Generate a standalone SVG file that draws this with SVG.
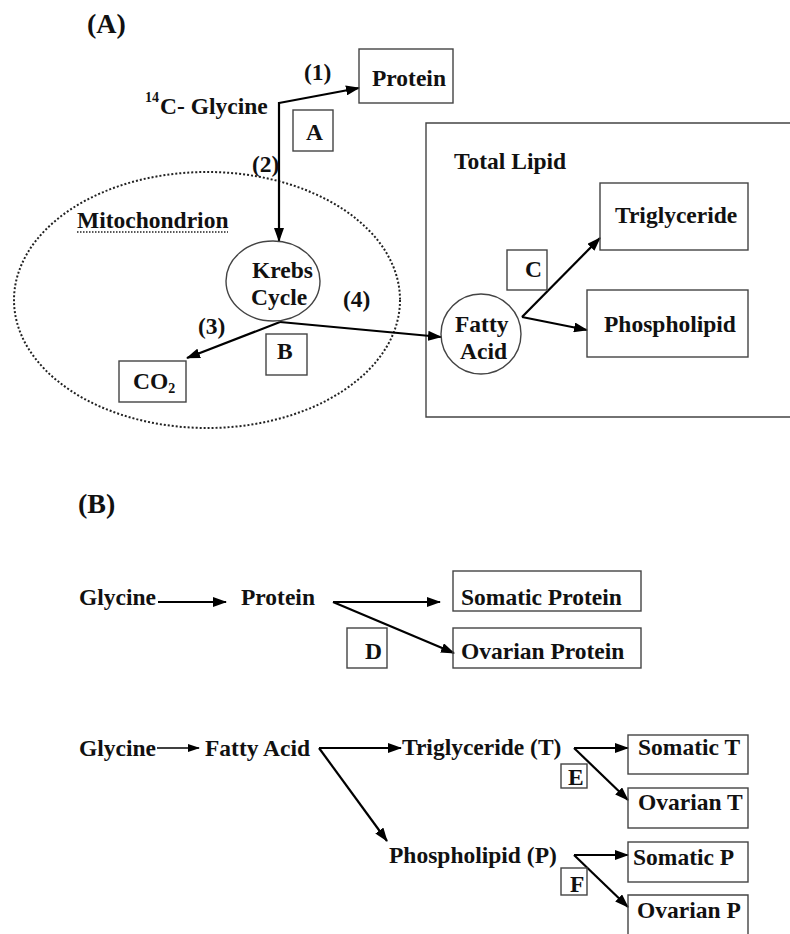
<svg xmlns="http://www.w3.org/2000/svg" width="790" height="934" viewBox="0 0 790 934">
<style>
text{font-family:"Liberation Serif","Times New Roman",serif;font-weight:bold;font-size:23.5px;fill:#111}
.big{font-size:28px}
.sup{font-size:14px}
.box{fill:none;stroke:#444;stroke-width:1.4}
.circ{fill:#fff;stroke:#444;stroke-width:1.4}
.arr{fill:none;stroke:#000;stroke-width:2.2;marker-end:url(#ah)}
.thin{fill:none;stroke:#000;stroke-width:1.3;marker-end:url(#ahs)}
.dot{fill:none;stroke:#222;stroke-width:2;stroke-dasharray:2 2}
</style>
<defs>
<marker id="ah" viewBox="0 0 14 10" refX="13" refY="5" markerWidth="14" markerHeight="10" markerUnits="userSpaceOnUse" orient="auto"><path d="M0,0 L14,5 L0,10 z" fill="#000"/></marker>
<marker id="ahs" viewBox="0 0 12 8" refX="11" refY="4" markerWidth="12" markerHeight="8" markerUnits="userSpaceOnUse" orient="auto"><path d="M0,0 L12,4 L0,8 z" fill="#000"/></marker>
</defs>
<rect width="790" height="934" fill="#fff"/>

<!-- Panel labels -->
<text class="big" x="87" y="33">(A)</text>
<text class="big" x="78" y="513">(B)</text>

<!-- Containers -->
<g id="mitochondrion">
<ellipse class="dot" cx="207" cy="300" rx="193" ry="128"/>
<text x="77" y="228">Mitochondrion</text>
<line x1="77" y1="232" x2="228" y2="232" stroke="#222" stroke-width="1.5" stroke-dasharray="1.5 1.5"/>
</g>
<g id="total-lipid">
<path class="box" d="M790,123 H426 V417 H790"/>
<text x="454" y="169">Total Lipid</text>
</g>

<!-- Connectors -->
<g id="connectors">
<line class="arr" x1="279" y1="103" x2="359" y2="88"/>
<line class="arr" x1="279" y1="102" x2="279" y2="241"/>
<line class="arr" x1="280" y1="322" x2="187" y2="358"/>
<line class="arr" x1="280" y1="322" x2="441" y2="337"/>
<line class="arr" x1="522" y1="317" x2="600" y2="238"/>
<line class="arr" x1="522" y1="317" x2="587" y2="330"/>
<line class="arr" x1="158" y1="602" x2="226" y2="602"/>
<line class="arr" x1="333" y1="602" x2="440" y2="602"/>
<line class="arr" x1="333" y1="602" x2="454" y2="653"/>
<line class="thin" x1="157" y1="748" x2="199" y2="748"/>
<line class="arr" x1="319" y1="748" x2="401" y2="748"/>
<line class="arr" x1="319" y1="748" x2="387" y2="841"/>
<line class="arr" x1="574" y1="748" x2="628" y2="748"/>
<line class="arr" x1="574" y1="748" x2="628" y2="800"/>
<line class="arr" x1="574" y1="855" x2="628" y2="855"/>
<line class="arr" x1="574" y1="855" x2="628" y2="907"/>
</g>

<!-- Connector labels -->
<g id="labels">
<text x="304" y="80">(1)</text>
<text x="252" y="172">(2)</text>
<text x="198" y="334">(3)</text>
<text x="343" y="307">(4)</text>
</g>

<!-- Panel A nodes -->
<g id="glycine14"><text x="145" y="102" class="sup">14</text><text x="160" y="114">C- Glycine</text></g>
<g id="protein-a"><rect class="box" x="359" y="49" width="94" height="54"/><text x="372" y="86">Protein</text></g>
<g id="box-A"><rect class="box" x="293" y="110" width="40" height="41"/><text x="306" y="140">A</text></g>
<g id="krebs"><ellipse class="circ" cx="273" cy="281" rx="47" ry="40"/><text x="252" y="278">Krebs</text><text x="251" y="305">Cycle</text></g>
<g id="box-B"><rect class="box" x="266" y="334" width="41" height="41"/><text x="277" y="359">B</text></g>
<g id="co2"><rect class="box" x="119" y="361" width="67" height="41"/><text x="133" y="389">CO<tspan class="sup" dy="4">2</tspan></text></g>
<g id="fatty-acid"><circle class="circ" cx="481" cy="334" r="40"/><text x="455" y="332">Fatty</text><text x="460" y="359">Acid</text></g>
<g id="box-C"><rect class="box" x="507" y="250" width="40" height="40"/><text x="525" y="277">C</text></g>
<g id="triglyceride"><rect class="box" x="600" y="183" width="148" height="67"/><text x="615" y="223">Triglyceride</text></g>
<g id="phospholipid"><rect class="box" x="587" y="290" width="161" height="67"/><text x="604" y="332">Phospholipid</text></g>

<!-- Panel B row 1 -->
<g id="glycine-b1"><text x="79" y="605">Glycine</text></g>
<g id="protein-b1"><text x="241" y="605">Protein</text></g>
<g id="somatic-protein"><rect class="box" x="453" y="571" width="188" height="40"/><text x="461" y="605">Somatic Protein</text></g>
<g id="ovarian-protein"><rect class="box" x="453" y="628" width="188" height="40"/><text x="461" y="659">Ovarian Protein</text></g>
<g id="box-D"><rect class="box" x="347" y="628" width="40" height="40"/><text x="365" y="659">D</text></g>

<!-- Panel B row 2 -->
<g id="glycine-b2"><text x="79" y="756">Glycine</text></g>
<g id="fatty-acid-b"><text x="205" y="756">Fatty Acid</text></g>
<g id="triglyceride-t"><text x="402" y="755">Triglyceride (T)</text></g>
<g id="phospholipid-p"><text x="389" y="863">Phospholipid (P)</text></g>
<g id="somatic-t"><rect class="box" x="628" y="735" width="120" height="39"/><text x="638" y="755">Somatic T</text></g>
<g id="ovarian-t"><rect class="box" x="628" y="788" width="120" height="40"/><text x="638" y="810">Ovarian T</text></g>
<g id="box-E"><rect class="box" x="561" y="764" width="26" height="24"/><text x="568" y="785">E</text></g>
<g id="somatic-p"><rect class="box" x="628" y="842" width="120" height="40"/><text x="633" y="865">Somatic P</text></g>
<g id="ovarian-p"><path class="box" d="M628,934 V895 H748 V934"/><text x="637" y="918">Ovarian P</text></g>
<g id="box-F"><rect class="box" x="561" y="868" width="26" height="27"/><text x="570" y="892">F</text></g>
</svg>
